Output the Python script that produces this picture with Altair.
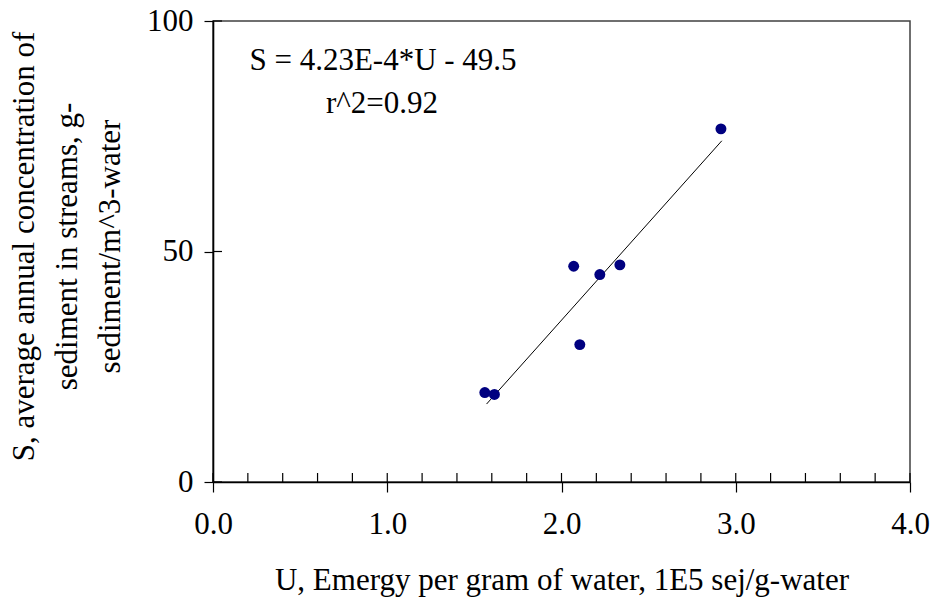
import altair as alt
import pandas as pd

# Data
U = [1.56, 1.615, 2.07, 2.105, 2.22, 2.335, 2.915]
S = [19.4, 19.0, 46.8, 29.8, 45.0, 47.1, 76.6]

# Regression line: S = 4.23E-4*U - 49.5 (U in 1E5 units -> slope 42.3)
FIT_U = [1.57, 2.92]
SLOPE = 42.3
INTERCEPT = -49.5
FIT_S = [SLOPE * u + INTERCEPT for u in FIT_U]

X_MAJOR = [0.0, 1.0, 2.0, 3.0, 4.0]
X_MINOR = [0.0, 0.2, 0.4, 0.6, 0.8, 1.0, 1.2, 1.4, 1.6, 1.8, 2.0,
           2.2, 2.4, 2.6, 2.8, 3.0, 3.2, 3.4, 3.6, 3.8, 4.0]
Y_MAJOR = [0, 50, 100]

EQ_LINE1 = "S = 4.23E-4*U - 49.5"
EQ_LINE2 = "r^2=0.92"

X_TITLE = "U, Emergy per gram of water, 1E5 sej/g-water"
Y_TITLE = ["S, average annual concentration of",
           "sediment in streams, g-",
           "sediment/m^3-water"]

FONT = "Liberation Serif"
FS = 31
W = 697
H = 461

pts = pd.DataFrame({"U": U, "S": S})
fit = pd.DataFrame({"U": FIT_U, "S": FIT_S})
xminor = pd.DataFrame({"U": X_MINOR})
ymajor = pd.DataFrame({"S": Y_MAJOR})

xscale = alt.Scale(domain=[0, 4], nice=False, zero=False)
yscale = alt.Scale(domain=[0, 100], nice=False)

x_axis = alt.Axis(
    values=X_MAJOR, format=".1f", grid=False,
    tickSize=10, tickColor="black", tickWidth=1.2,
    domainColor="black", domainWidth=1.6,
    labelFont=FONT, labelFontSize=FS, labelColor="black", labelPadding=17,
    labelFlush=False,
    title=X_TITLE, titleFont=FONT, titleFontSize=FS, titleFontWeight="normal",
    titleColor="black", titleY=107, titleBaseline="alphabetic",
)
y_axis = alt.Axis(
    values=Y_MAJOR, grid=False,
    tickSize=9, tickColor="black", tickWidth=1.2,
    domainColor="black", domainWidth=1.6,
    labelFont=FONT, labelFontSize=FS, labelColor="black", labelPadding=11,
    labelFlush=False,
    title=Y_TITLE, titleFont=FONT, titleFontSize=FS, titleFontWeight="normal",
    titleColor="black", titleLineHeight=43, titleX=-173, titleY=225,
    titleBaseline="bottom", titleAlign="center", titleAngle=270,
)

X = alt.X("U:Q", scale=xscale, axis=x_axis)
Y = alt.Y("S:Q", scale=yscale, axis=y_axis)

line = alt.Chart(fit).mark_line(color="black", strokeWidth=1).encode(x=X, y=Y)

points = alt.Chart(pts).mark_circle(size=120, color="#000080", opacity=1).encode(x=X, y=Y)

minor_ticks = alt.Chart(xminor).mark_rule(color="black", strokeWidth=1.2).encode(
    x=X,
    y=alt.value(H - 9),
    y2=alt.value(H),
)

y_inner_ticks = alt.Chart(ymajor).mark_rule(color="black", strokeWidth=1.2).encode(
    y=Y,
    x=alt.value(0),
    x2=alt.value(9),
)

eq1 = alt.Chart(pd.DataFrame({"t": [EQ_LINE1]})).mark_text(
    font=FONT, fontSize=FS, color="black", align="center", baseline="alphabetic"
).encode(text="t:N", x=alt.value(170), y=alt.value(49))

eq2 = alt.Chart(pd.DataFrame({"t": [EQ_LINE2]})).mark_text(
    font=FONT, fontSize=FS, color="black", align="center", baseline="alphabetic"
).encode(text="t:N", x=alt.value(169), y=alt.value(92))

chart = alt.layer(line, points, minor_ticks, y_inner_ticks, eq1, eq2).properties(
    width=W, height=H,
    background="white",
    autosize=alt.AutoSizeParams(type="none"),
    padding={"left": 205, "top": 13, "right": 20, "bottom": 118},
).configure_view(
    stroke="#404040", strokeWidth=1.5
)

chart.save("out.html", embed_options={"renderer": "svg", "actions": False})
